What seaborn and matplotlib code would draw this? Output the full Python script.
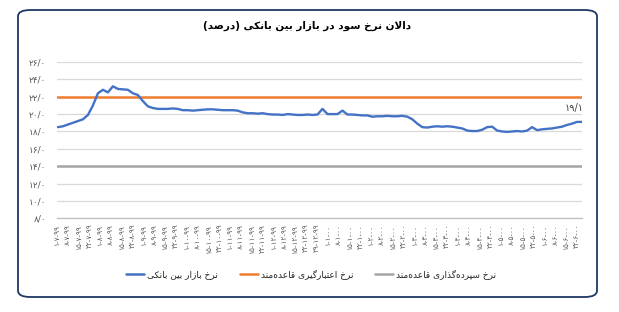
import numpy as np
import pandas as pd
import matplotlib
matplotlib.use("Agg")
import matplotlib.pyplot as plt
import seaborn as sns
from matplotlib.patches import FancyBboxPatch
from matplotlib.lines import Line2D

# ---------------- data ----------------
title_text = "دالان نرخ سود در بازار بین بانکی (درصد)"
series_names = ["نرخ بازار بین بانکی", "نرخ اعتبارگیری قاعده‌مند", "نرخ سپرده‌گذاری قاعده‌مند"]

interbank_rate = [
    18.5, 18.6, 18.8, 19.0, 19.2, 19.4, 19.9, 21.0, 22.4, 22.8,
    22.5, 23.2, 22.9, 22.85, 22.8, 22.4, 22.2, 21.5, 20.9, 20.7,
    20.6, 20.6, 20.6, 20.65, 20.6, 20.45, 20.45, 20.4, 20.45, 20.5,
    20.55, 20.55, 20.5, 20.45, 20.45, 20.45, 20.4, 20.2, 20.1, 20.1,
    20.05, 20.1, 20.0, 19.95, 19.95, 19.9, 20.0, 19.95, 19.9, 19.9,
    19.95, 19.9, 19.95, 20.6, 20.0, 20.0, 20.0, 20.4, 19.95, 19.95,
    19.9, 19.85, 19.85, 19.7, 19.75, 19.75, 19.8, 19.75, 19.75, 19.8,
    19.7, 19.4, 18.9, 18.5, 18.45, 18.55, 18.6, 18.55, 18.6, 18.55,
    18.45, 18.35, 18.1, 18.05, 18.05, 18.2, 18.5, 18.55, 18.1, 18.0,
    17.95, 18.0, 18.05, 18.0, 18.1, 18.5, 18.15, 18.25, 18.3, 18.35,
    18.45, 18.55, 18.75, 18.9, 19.1, 19.1,
]
lending_facility_rate = 22.0
deposit_facility_rate = 14.0

y_ticks = [8, 10, 12, 14, 16, 18, 20, 22, 24, 26]
y_tick_labels = ["۸/۰", "۱۰/۰", "۱۲/۰", "۱۴/۰", "۱۶/۰", "۱۸/۰", "۲۰/۰", "۲۲/۰", "۲۴/۰", "۲۶/۰"]

x_tick_labels = [
    "۱-۷-۹۹", "۸-۷-۹۹", "۱۵-۷-۹۹", "۲۲-۷-۹۹",
    "۱-۸-۹۹", "۸-۸-۹۹", "۱۵-۸-۹۹", "۲۲-۸-۹۹",
    "۱-۹-۹۹", "۸-۹-۹۹", "۱۵-۹-۹۹", "۲۲-۹-۹۹",
    "۱-۱۰-۹۹", "۸-۱۰-۹۹", "۱۵-۱۰-۹۹", "۲۲-۱۰-۹۹",
    "۱-۱۱-۹۹", "۸-۱۱-۹۹", "۱۵-۱۱-۹۹", "۲۲-۱۱-۹۹",
    "۱-۱۲-۹۹", "۸-۱۲-۹۹", "۱۵-۱۲-۹۹", "۲۲-۱۲-۹۹", "۲۹-۱۲-۹۹",
    "۱-۱-۰۰", "۸-۱-۰۰", "۱۵-۱-۰۰", "۲۲-۱-۰۰",
    "۱-۲-۰۰", "۸-۲-۰۰", "۱۵-۲-۰۰", "۲۲-۲-۰۰",
    "۱-۳-۰۰", "۸-۳-۰۰", "۱۵-۳-۰۰", "۲۲-۳-۰۰",
    "۱-۴-۰۰", "۸-۴-۰۰", "۱۵-۴-۰۰", "۲۲-۴-۰۰",
    "۱-۵-۰۰", "۸-۵-۰۰", "۱۵-۵-۰۰", "۲۲-۵-۰۰",
    "۱-۶-۰۰", "۸-۶-۰۰", "۱۵-۶-۰۰", "۲۲-۶-۰۰",
]
last_value_label = "۱۹/۱"

# ------------- simple Persian shaping (presentation forms + RTL order) -------------
_F = {
    'ا': ('\ufe8d', '\ufe8e'), 'د': ('\ufea9', '\ufeaa'), 'ذ': ('\ufeab', '\ufeac'),
    'ر': ('\ufead', '\ufeae'), 'ز': ('\ufeaf', '\ufeb0'), 'و': ('\ufeed', '\ufeee'),
    'ب': ('\ufe8f', '\ufe90', '\ufe91', '\ufe92'), 'پ': ('\ufb56', '\ufb57', '\ufb58', '\ufb59'),
    'ت': ('\ufe95', '\ufe96', '\ufe97', '\ufe98'), 'خ': ('\ufea5', '\ufea6', '\ufea7', '\ufea8'),
    'س': ('\ufeb1', '\ufeb2', '\ufeb3', '\ufeb4'), 'ص': ('\ufeb9', '\ufeba', '\ufebb', '\ufebc'),
    'ع': ('\ufec9', '\ufeca', '\ufecb', '\ufecc'), 'ق': ('\ufed5', '\ufed6', '\ufed7', '\ufed8'),
    'ک': ('\ufb8e', '\ufb8f', '\ufb90', '\ufb91'), 'گ': ('\ufb92', '\ufb93', '\ufb94', '\ufb95'),
    'ل': ('\ufedd', '\ufede', '\ufedf', '\ufee0'), 'م': ('\ufee1', '\ufee2', '\ufee3', '\ufee4'),
    'ن': ('\ufee5', '\ufee6', '\ufee7', '\ufee8'), 'ه': ('\ufee9', '\ufeea', '\ufeeb', '\ufeec'),
    'ی': ('\ufbfc', '\ufbfd', '\ufbfe', '\ufbff'),
}


def _dual(c):
    return c in _F and len(_F[c]) == 4


def shape(s):
    out = []
    i, n = 0, len(s)
    while i < n:
        c = s[i]
        if c not in _F:
            if c != '\u200c':
                out.append(c)
            i += 1
            continue
        jp = i > 0 and _dual(s[i - 1])
        if c == 'ل' and i + 1 < n and s[i + 1] == 'ا':
            out.append('\ufefc' if jp else '\ufefb')
            i += 2
            continue
        jn = _dual(c) and i + 1 < n and s[i + 1] in _F
        f = _F[c]
        if jp and jn:
            g = f[3]
        elif jp:
            g = f[1]
        elif jn:
            g = f[2]
        else:
            g = f[0]
        out.append(g)
        i += 1
    vis = ''.join(reversed(out))
    return vis.translate(str.maketrans('()', ')('))


# ---------------- plot ----------------
sns.set_theme(style="white")
plt.rcParams['font.family'] = ['DejaVu Sans']

W, H = 619, 312
fig = plt.figure(figsize=(W / 100, H / 100), dpi=100)
ax = fig.add_axes([57 / W, 1 - 218.3 / H, (582 - 57) / W, (218.3 - 62) / H])

blue, orange, gray = "#4472C4", "#ED7D31", "#A5A5A5"

df = pd.DataFrame({"idx": np.arange(len(interbank_rate)), "rate": interbank_rate})
sns.lineplot(data=df, x="idx", y="rate", ax=ax, color=blue, linewidth=1.7, zorder=4)
ax.axhline(lending_facility_rate, color=orange, linewidth=1.8, zorder=3)
ax.axhline(deposit_facility_rate, color=gray, linewidth=1.8, zorder=3)

n = len(interbank_rate)
ax.set_xlim(0, n - 1)
ax.set_ylim(8, 26)
ax.set_yticks(y_ticks)
ax.set_yticklabels(y_tick_labels, fontsize=6.5, color="#595959")
tick_pos = np.linspace(-0.2, (577 - 57) / 5, len(x_tick_labels))
ax.set_xticks(tick_pos)
ax.set_xticklabels(x_tick_labels, rotation=90, fontsize=5.2, color="#595959")
ax.tick_params(axis='both', length=0, pad=4)
ax.tick_params(axis='y', pad=8)
ax.set_xlabel("")
ax.set_ylabel("")
ax.grid(axis='y', color="#D9D9D9", linewidth=0.9)
ax.grid(axis='x', visible=False)
for s in ["top", "right", "left"]:
    ax.spines[s].set_visible(False)
ax.spines["bottom"].set_color("#BFBFBF")
ax.spines["bottom"].set_linewidth(0.9)

ax.annotate(last_value_label, (n - 1, interbank_rate[-1]), xytext=(-6, 10),
            textcoords='offset points', ha='center', va='center', fontsize=7, color="#404040")

fig.text(307 / W, 1 - 26 / H, shape(title_text), ha='center', va='center',
         fontsize=7.5, fontweight='bold', color="#000000")

handles = [Line2D([], [], color=blue, lw=1.8), Line2D([], [], color=orange, lw=1.8),
           Line2D([], [], color=gray, lw=1.8)]
fig.legend(handles, [shape(s) for s in series_names], loc='center',
           bbox_to_anchor=(311 / W, 1 - 274 / H), ncol=3, frameon=False, fontsize=6.5,
           handlelength=2.0, handletextpad=0.35, columnspacing=2.4)

border = FancyBboxPatch((18 / W, 1 - 297 / H), (597 - 18) / W, (297 - 10) / H,
                        boxstyle="round,pad=0,rounding_size=0.02", transform=fig.transFigure,
                        fill=False, edgecolor="#203864", linewidth=1.3)
fig.patches.append(border)

fig.savefig("out.png", dpi=100)
